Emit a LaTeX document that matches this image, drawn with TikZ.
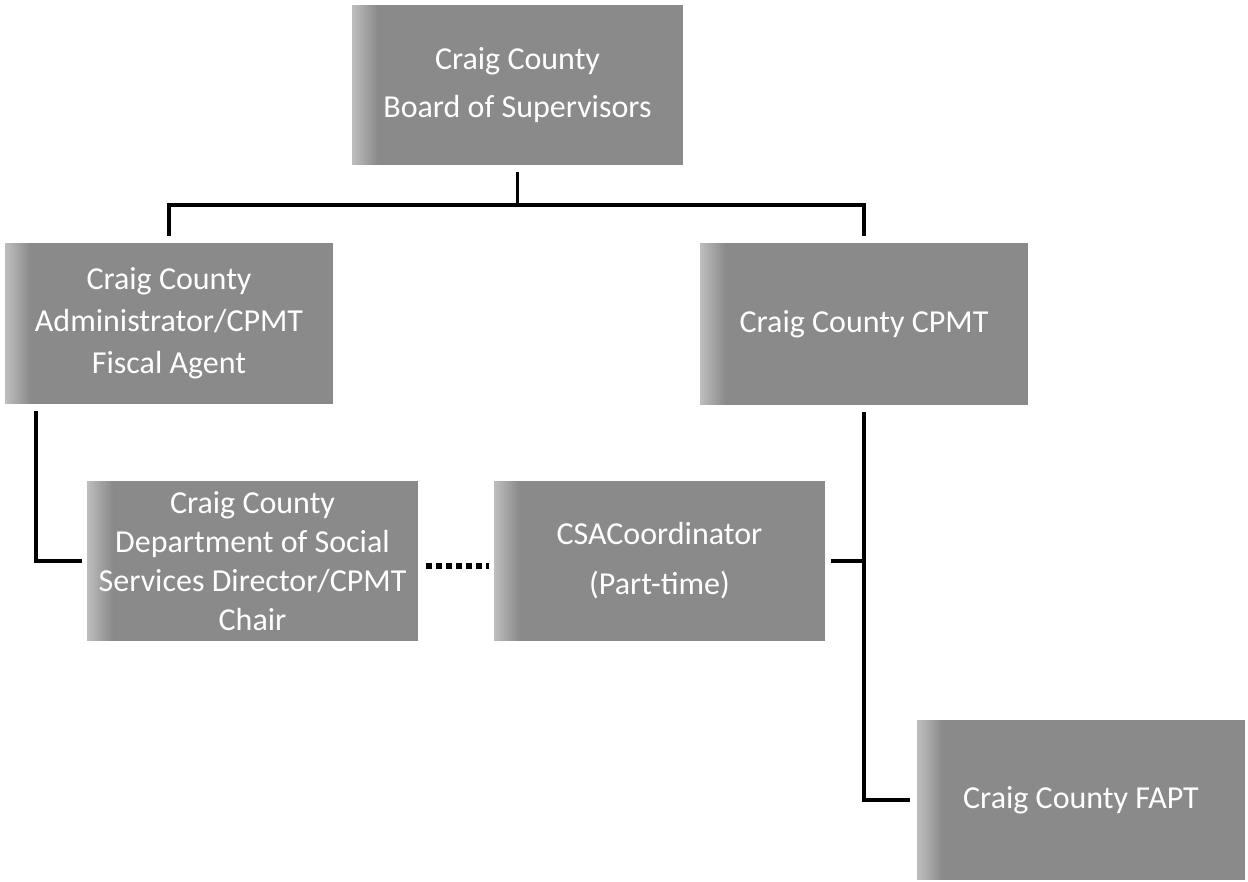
\documentclass[tikz,border=0pt]{standalone}
\usepackage{fontspec}
\setmainfont{Carlito}
\definecolor{boxgray}{HTML}{8A8A8A}
\definecolor{boxlight}{HTML}{BDBDBD}
\tikzset{
  orgbox/.style={rectangle, fill=boxgray, text=white, align=center,
    inner sep=0pt, font=\fontsize{32}{44}\selectfont,
    path picture={\foreach \i in {0,...,12}{
      \pgfmathtruncatemacro{\pct}{100-\i*8}
      \fill[boxlight!\pct!boxgray]
        ([xshift=2*\i pt]path picture bounding box.south west) rectangle
        ([xshift=2*\i pt+2.2pt]path picture bounding box.north west);}}},
  conn/.style={line width=3.5pt, draw=black},
  dotconn/.style={line width=5.5pt, draw=black, dash pattern=on 5.5pt off 4.5pt}
}
\begin{document}
\begin{tikzpicture}[x=1pt,y=-1pt]
\useasboundingbox (0,0) rectangle (1248,882);
\node[orgbox, minimum width=331pt, minimum height=160pt, font=\fontsize{32}{48}\selectfont] (top) at (517.5,85) {Craig County\\Board of Supervisors};
\node[orgbox, minimum width=328pt, minimum height=161pt, font=\fontsize{32}{42}\selectfont] (admin) at (169,323.5) {Craig County\\Administrator/CPMT\\Fiscal Agent};
\node[orgbox, minimum width=328pt, minimum height=162pt] (cpmt) at (864,324) {Craig County CPMT};
\node[orgbox, minimum width=331pt, minimum height=160pt, font=\fontsize{32}{39}\selectfont] (dss) at (252.5,561) {Craig County\\Department of Social\\Services Director/CPMT\\Chair};
\node[orgbox, minimum width=331pt, minimum height=160pt, font=\fontsize{32}{50}\selectfont] (csa) at (659.5,561) {CSACoordinator\\(Part-time)};
\node[orgbox, minimum width=328pt, minimum height=160pt] (fapt) at (1081,800) {Craig County FAPT};
\draw[conn] ([yshift=-7pt]top.south) -- ++(0,33) coordinate (j);
\draw[conn] ([yshift=7pt]admin.north) |- (j) -| ([yshift=7pt]cpmt.north);
\draw[conn] ([xshift=31pt,yshift=-7pt]admin.south west) |- ([xshift=-5pt]dss.west);
\draw[dotconn] ([xshift=8pt,yshift=-5pt]dss.east) -- ([xshift=-5pt,yshift=-5pt]csa.west);
\draw[conn] ([yshift=-7pt]cpmt.south) |- ([xshift=-7pt]fapt.west);
\draw[conn] ([xshift=6pt]csa.east) -- (csa.east -| cpmt.south);
\end{tikzpicture}
\end{document}
